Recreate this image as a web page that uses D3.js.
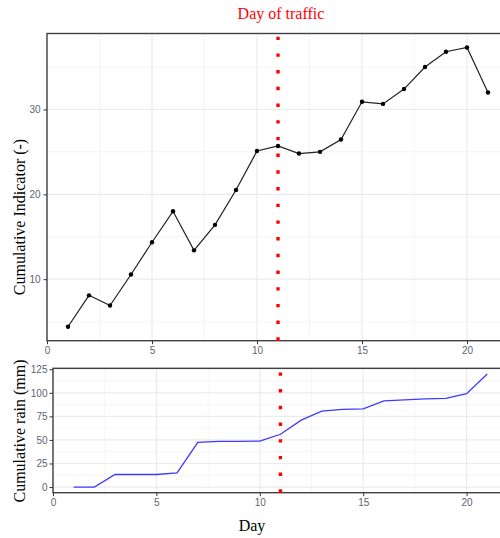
<!DOCTYPE html>
<html>
<head>
<meta charset="utf-8">
<script src="https://cdn.jsdelivr.net/npm/d3@7"></script>
<style>
  body { margin: 0; background: #fff; }
  svg { display: block; }
</style>
</head>
<body>
<svg id="chart" width="500" height="538"></svg>
<script>
// ---------------- data ----------------
const days = [1,2,3,4,5,6,7,8,9,10,11,12,13,14,15,16,17,18,19,20,21];
const indicator = [4.4,8.1,6.9,10.55,14.35,18.0,13.4,16.4,20.5,25.1,25.7,24.8,25.0,26.45,30.9,30.65,32.4,35.0,36.8,37.3,32.0];
const rain = [0,0,13.3,13.3,13.3,15,47.5,48.5,48.5,48.8,56,71,80.5,82.5,83,91.5,92.5,93.5,94,99,120];
const trafficDay = 11;
const xTicks = [0,5,10,15,20];
const xMinor = [2.5,7.5,12.5,17.5];
const yTopTicks = [10,20,30];
const yTopMinor = [5,15,25,35];
const yBotTicks = [0,25,50,75,100,125];
const yBotMinor = [12.5,37.5,62.5,87.5,112.5];
const titleText = "Day of traffic";
const yTopLabel = "Cumulative Indicator (-)";
const yBotLabel = "Cumulative rain (mm)";
const xLabel = "Day";

// ---------------- setup ----------------
const svg = d3.select("#chart");
const serif = "'Liberation Serif', 'Times New Roman', serif";
const sans = "'Liberation Sans', Arial, sans-serif";

function expand(ext) {
  const d = (ext[1] - ext[0]) * 0.05;
  return [ext[0] - d, ext[1] + d];
}

function panel(opts) {
  const { left, top, right, bottom, xDom, yDom, yTicks, yMinor, tickLabelGap } = opts;
  const x = d3.scaleLinear().domain(xDom).range([left, right]);
  const y = d3.scaleLinear().domain(yDom).range([bottom, top]);
  const g = svg.append("g");
  g.append("rect").attr("x", left).attr("y", top).attr("width", right - left).attr("height", bottom - top).attr("fill", "#fff");
  g.selectAll(".vxm").data(xMinor).enter().append("line")
    .attr("x1", d => x(d)).attr("x2", d => x(d)).attr("y1", top).attr("y2", bottom)
    .attr("stroke", "#f3f3f3").attr("stroke-width", 0.8);
  g.selectAll(".vym").data(yMinor).enter().append("line")
    .attr("y1", d => y(d)).attr("y2", d => y(d)).attr("x1", left).attr("x2", right)
    .attr("stroke", "#f3f3f3").attr("stroke-width", 0.8);
  g.selectAll(".vx").data(xTicks).enter().append("line")
    .attr("x1", d => x(d)).attr("x2", d => x(d)).attr("y1", top).attr("y2", bottom)
    .attr("stroke", "#ebebeb").attr("stroke-width", 1.2);
  g.selectAll(".vy").data(yTicks).enter().append("line")
    .attr("y1", d => y(d)).attr("y2", d => y(d)).attr("x1", left).attr("x2", right)
    .attr("stroke", "#ebebeb").attr("stroke-width", 1.2);
  const ax = g.append("g").attr("transform", `translate(0,${bottom})`)
    .call(d3.axisBottom(x).tickValues(xTicks).tickSize(3.5).tickPadding(3).tickFormat(d3.format("d")));
  const ay = g.append("g").attr("transform", `translate(${left},0)`)
    .call(d3.axisLeft(y).tickValues(yTicks).tickSize(3.5).tickPadding(tickLabelGap).tickFormat(d3.format("d")));
  [ax, ay].forEach(a => {
    a.select(".domain").remove();
    a.selectAll(".tick line").attr("stroke", "#333").attr("stroke-width", 1);
    a.selectAll(".tick text").attr("fill", "#5c6470").attr("font-family", sans).attr("font-size", "10px");
  });
  g.append("rect").attr("x", left).attr("y", top).attr("width", right - left).attr("height", bottom - top)
    .attr("fill", "none").attr("stroke", "#404040").attr("stroke-width", 1.4);
  return { x, y, g };
}

// ---------------- top panel ----------------
const xDom = expand(d3.extent(days));
const topP = panel({
  left: 47, top: 33.5, right: 47 + 21 * (xDom[1] - xDom[0]), bottom: 340.7,
  xDom, yDom: expand(d3.extent(indicator)), yTicks: yTopTicks, yMinor: yTopMinor, tickLabelGap: 3
});
const topData = days.map((d, i) => ({ d, v: indicator[i] }));
topP.g.append("path").datum(topData)
  .attr("fill", "none").attr("stroke", "#222").attr("stroke-width", 1.2)
  .attr("d", d3.line().x(p => topP.x(p.d)).y(p => topP.y(p.v)));
topP.g.selectAll(".pt").data(topData).enter().append("circle")
  .attr("cx", p => topP.x(p.d)).attr("cy", p => topP.y(p.v)).attr("r", 2.2).attr("fill", "#000");
topP.g.append("line")
  .attr("x1", topP.x(trafficDay)).attr("x2", topP.x(trafficDay))
  .attr("y1", 340.7).attr("y2", 33.5)
  .attr("stroke", "#ff0000").attr("stroke-width", 3.4).attr("stroke-dasharray", "3.4 13.3");

// ---------------- bottom panel ----------------
const botP = panel({
  left: 53, top: 368.3, right: 53 + 20.68 * (xDom[1] - xDom[0]), bottom: 492.7,
  xDom, yDom: expand(d3.extent(rain)), yTicks: yBotTicks, yMinor: yBotMinor, tickLabelGap: 2
});
const botData = days.map((d, i) => ({ d, v: rain[i] }));
botP.g.append("path").datum(botData)
  .attr("fill", "none").attr("stroke", "#3b3bff").attr("stroke-width", 1.3)
  .attr("d", d3.line().x(p => botP.x(p.d)).y(p => botP.y(p.v)));
botP.g.append("line")
  .attr("x1", botP.x(trafficDay)).attr("x2", botP.x(trafficDay))
  .attr("y1", 492.7).attr("y2", 368.3)
  .attr("stroke", "#ff0000").attr("stroke-width", 3.4).attr("stroke-dasharray", "3.4 13.3");

// ---------------- text ----------------
svg.append("text").attr("x", 281).attr("y", 18.5).attr("text-anchor", "middle")
  .attr("font-family", serif).attr("font-size", "16px").attr("fill", "#ff0000").text(titleText);
svg.append("text").attr("transform", "translate(25,217) rotate(-90)").attr("text-anchor", "middle")
  .attr("font-family", serif).attr("font-size", "16px").attr("fill", "#000").text(yTopLabel);
svg.append("text").attr("transform", "translate(25,431) rotate(-90)").attr("text-anchor", "middle")
  .attr("font-family", serif).attr("font-size", "16px").attr("fill", "#000").text(yBotLabel);
svg.append("text").attr("x", 252).attr("y", 531).attr("text-anchor", "middle")
  .attr("font-family", serif).attr("font-size", "16px").attr("fill", "#000").text(xLabel);
</script>
</body>
</html>
